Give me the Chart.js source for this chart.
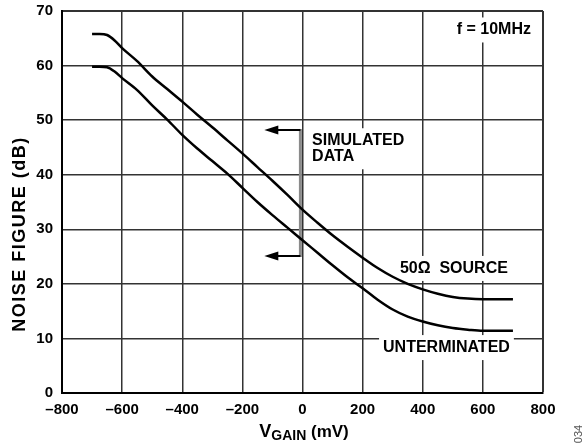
<!DOCTYPE html>
<html>
<head>
<meta charset="utf-8">
<script src="https://cdn.jsdelivr.net/npm/chart.js@4.4.1/dist/chart.umd.min.js"></script>
<style>
  html, body { margin: 0; padding: 0; background: #fff; }
  canvas { display: block; }
</style>
</head>
<body>
<canvas id="grafico" width="586" height="446"></canvas>
<script>
// V_GAIN (mV)
const vGain = [-700, -675, -650, -625, -600, -550, -500, -450, -400, -350, -300, -250, -200, -150, -100, -50,
  0, 50, 100, 150, 200, 250, 300, 350, 400, 450, 500, 550, 600, 650, 700];

// noise figure (dB), 50 ohm source
const nfSource50 = [65.8, 65.8, 65.6, 64.6, 63.2, 60.8, 58.0, 55.7, 53.4, 51.0, 48.7, 46.3, 43.9, 41.4, 38.9, 36.3,
  33.6, 31.2, 28.9, 26.8, 24.8, 22.9, 21.3, 20.0, 19.0, 18.2, 17.6, 17.3, 17.2, 17.2, 17.2];

// noise figure (dB), unterminated
const nfUnterminated = [59.8, 59.8, 59.7, 58.9, 57.7, 55.5, 52.7, 50.1, 47.3, 44.8, 42.5, 40.2, 37.6, 35.0, 32.6, 30.3,
  28.0, 25.7, 23.4, 21.2, 19.2, 17.1, 15.3, 14.0, 13.1, 12.4, 11.9, 11.6, 11.4, 11.4, 11.4];

const xTickValues = [-800, -600, -400, -200, 0, 200, 400, 600, 800];
const yTickValues = [0, 10, 20, 30, 40, 50, 60, 70];

const FONTE = 'Arial, "Liberation Sans", Helvetica, sans-serif';

// textos dentro do grafico (posicao em unidades de dados)
const rotulos = [
  { linhas: ['f = 10MHz'], x: 760, y: 65.7, align: 'right' },
  { linhas: ['SIMULATED', 'DATA'], x: 32, y: 45.4, align: 'left' },
  { linhas: ['50\u03A9  SOURCE'], x: 324, y: 22.0, align: 'left' },
  { linhas: ['UNTERMINATED'], x: 268, y: 7.5, align: 'left' }
];

function pontos(xs, ys) {
  return xs.map((x, i) => ({ x: x, y: ys[i] }));
}

function seta(ctx, xTip, y) {
  ctx.beginPath();
  ctx.moveTo(xTip, y);
  ctx.lineTo(xTip + 14, y - 4.5);
  ctx.lineTo(xTip + 14, y + 4.5);
  ctx.closePath();
  ctx.fill();
}

const anotacoes = {
  id: 'anotacoes',
  beforeDatasetsDraw(chart) {
    const ctx = chart.ctx;
    const sx = chart.scales.x, sy = chart.scales.y;
    ctx.save();
    // caixas brancas atras dos textos
    ctx.font = 'bold 16px ' + FONTE;
    ctx.fillStyle = '#fff';
    rotulos.forEach(r => {
      const w = Math.max(...r.linhas.map(l => ctx.measureText(l).width));
      const x0 = sx.getPixelForValue(r.x);
      const left = r.align === 'right' ? x0 - w : x0;
      const base = sy.getPixelForValue(r.y);
      const bottom = base + (r.linhas.length - 1) * 16;
      const top = Math.max(base - 17, chart.chartArea.top + 2);
      ctx.fillRect(left - 4, top, w + 8, bottom + 8 - top);
    });
    // colchete "simulated data"
    const bx = sx.getPixelForValue(-7);
    const yTop = sy.getPixelForValue(48.2);
    const yBot = sy.getPixelForValue(25.1);
    const tip = sx.getPixelForValue(-127);
    ctx.strokeStyle = '#8a8a8a';
    ctx.lineWidth = 3;
    ctx.beginPath();
    ctx.moveTo(bx, yTop - 1);
    ctx.lineTo(bx, yBot + 1);
    ctx.stroke();
    ctx.strokeStyle = '#000';
    ctx.lineWidth = 2;
    ctx.beginPath();
    ctx.moveTo(bx, yTop); ctx.lineTo(tip + 10, yTop);
    ctx.moveTo(bx, yBot); ctx.lineTo(tip + 10, yBot);
    ctx.stroke();
    ctx.fillStyle = '#000';
    seta(ctx, tip, yTop);
    seta(ctx, tip, yBot);
    ctx.restore();
  },
  afterDraw(chart) {
    const ctx = chart.ctx;
    const sx = chart.scales.x, sy = chart.scales.y;
    ctx.save();
    ctx.fillStyle = '#000';
    ctx.textBaseline = 'alphabetic';
    ctx.font = 'bold 16px ' + FONTE;
    rotulos.forEach(r => {
      ctx.textAlign = r.align;
      const x0 = sx.getPixelForValue(r.x);
      const base = sy.getPixelForValue(r.y);
      r.linhas.forEach((l, i) => ctx.fillText(l, x0, base + i * 16));
    });

    // titulo do eixo y
    ctx.save();
    ctx.translate(25, 234);
    ctx.rotate(-Math.PI / 2);
    ctx.textAlign = 'center';
    ctx.font = 'bold 18px ' + FONTE;
    ctx.letterSpacing = '1.5px';
    ctx.fillText('NOISE FIGURE (dB)', 0, 0);
    ctx.restore();

    // titulo do eixo x com subscrito
    const partes = [
      { t: 'V', f: 'bold 18px ' + FONTE, dy: 0 },
      { t: 'GAIN', f: 'bold 14px ' + FONTE, dy: 3 },
      { t: ' (mV)', f: 'bold 17px ' + FONTE, dy: 0 }
    ];
    let total = 0;
    partes.forEach(p => { ctx.font = p.f; p.w = ctx.measureText(p.t).width; total += p.w; });
    let xi = 304 - total / 2;
    ctx.textAlign = 'left';
    partes.forEach(p => { ctx.font = p.f; ctx.fillText(p.t, xi, 437 + p.dy); xi += p.w; });

    // codigo da figura
    ctx.save();
    ctx.translate(582, 434);
    ctx.rotate(-Math.PI / 2);
    ctx.textAlign = 'center';
    ctx.fillStyle = '#555';
    ctx.font = '11px ' + FONTE;
    ctx.fillText('034', 0, 0);
    ctx.restore();
    ctx.restore();
  }
};

const ctx = document.getElementById('grafico').getContext('2d');
new Chart(ctx, {
  type: 'line',
  data: {
    datasets: [
      {
        label: '50\u03A9 SOURCE',
        data: pontos(vGain, nfSource50),
        borderColor: '#000',
        borderWidth: 2.5,
        pointRadius: 0,
        cubicInterpolationMode: 'monotone',
        fill: false
      },
      {
        label: 'UNTERMINATED',
        data: pontos(vGain, nfUnterminated),
        borderColor: '#000',
        borderWidth: 2.5,
        pointRadius: 0,
        cubicInterpolationMode: 'monotone',
        fill: false
      }
    ]
  },
  options: {
    responsive: false,
    animation: false,
    devicePixelRatio: 1,
    layout: { padding: { top: 11, right: 43, left: 0, bottom: 0 } },
    plugins: {
      legend: { display: false },
      tooltip: { enabled: false }
    },
    scales: {
      x: {
        type: 'linear',
        min: -800,
        max: 800,
        afterBuildTicks: s => { s.ticks = xTickValues.map(v => ({ value: v })); },
        afterFit: s => { s.height = 53; s.paddingLeft = 0; s.paddingRight = 0; },
        ticks: {
          color: '#000',
          padding: 8,
          maxRotation: 0,
          font: { family: FONTE, size: 15, weight: 'bold' },
          callback: v => String(v).replace('-', '\u2013')
        },
        grid: {
          color: '#333',
          lineWidth: c => (c.tick && c.tick.value === 800 ? 2 : 1.5),
          drawTicks: false
        },
        border: { display: true, color: '#000', width: 2 }
      },
      y: {
        min: 0,
        max: 70,
        afterBuildTicks: s => { s.ticks = yTickValues.map(v => ({ value: v })); },
        afterFit: s => { s.width = 62; s.paddingTop = 0; s.paddingBottom = 0; },
        ticks: {
          color: '#000',
          padding: 9,
          font: { family: FONTE, size: 15, weight: 'bold' }
        },
        grid: {
          color: '#333',
          lineWidth: c => (c.tick && c.tick.value === 70 ? 2 : 1.5),
          drawTicks: false
        },
        border: { display: true, color: '#000', width: 2 }
      }
    }
  },
  plugins: [anotacoes]
});
</script>
</body>
</html>
